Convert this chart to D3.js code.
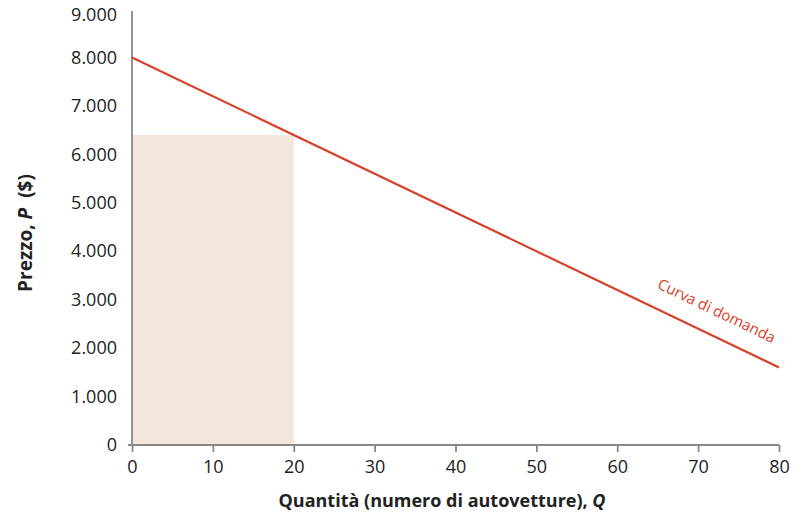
<!DOCTYPE html>
<html><head><meta charset="utf-8">
<script src="https://cdn.jsdelivr.net/npm/d3@7"></script>
<style>body{margin:0;background:#fff}svg{display:block}text{font-family:"Open Sans",sans-serif}</style>
</head><body><svg id="c" width="809" height="520"></svg>
<script>
const xTicks = [0,10,20,30,40,50,60,70,80];
const yTicks = [0,1000,2000,3000,4000,5000,6000,7000,8000,9000];
const demandQ = [0, 80];
const demandP = [8000, 1600];
const rectQ = [0, 20];
const rectP = [0, 6400];
const curveLabel = "Curva di domanda";
const labelQ = 71;
const xTitle = "Quantità (numero di autovetture), ";
const yTitle = "Prezzo, ";

const svg = d3.select("#c");
const x = d3.scaleLinear().domain([0,80]).range([132,779]);
const y = d3.scaleLinear().domain([0,9000]).range([445,9]);
const fmt = d => d===0 ? "0" : d3.format(",")(d).replace(/,/g,".");

svg.append("rect")
  .attr("x", x(rectQ[0])).attr("y", y(rectP[1]))
  .attr("width", x(rectQ[1])-x(rectQ[0])).attr("height", y(rectP[0])-y(rectP[1]))
  .attr("fill", "#f3e6dc");

// x axis
const gx = svg.append("g").attr("transform", `translate(0,${y(0)})`)
  .call(d3.axisBottom(x).tickValues(xTicks).tickSize(7).tickPadding(8).tickFormat(d3.format("d")));
gx.select(".domain").attr("d", `M128,0H${x(80)}`);
// y axis
const gy = svg.append("g").attr("transform", `translate(${x(0)},0)`)
  .call(d3.axisLeft(y).tickValues(yTicks).tickSize(0).tickPadding(15).tickFormat(fmt));
gy.select(".domain").attr("d", `M0,${y(0)}V11`);
gy.selectAll(".tick text").filter(d=>d===9000).attr("dy","0.62em");
[gx, gy].forEach(g => {
  g.selectAll(".domain, line").attr("stroke", "#888").attr("stroke-width", 1.8);
  g.selectAll("text").attr("fill", "#222").style("font-size", "18px").attr("font-family", "Open Sans");
});

// demand curve
const pts = demandQ.map((q,i)=>[q, demandP[i]]);
svg.append("path").datum(pts)
  .attr("d", d3.line().x(d=>x(d[0])).y(d=>y(d[1])))
  .attr("fill","none").attr("stroke","#d7412b").attr("stroke-width",2.2);

const slope = (demandP[1]-demandP[0])/(demandQ[1]-demandQ[0]);
const lp = demandP[0] + slope*labelQ;
const ang = Math.atan2(y(demandP[1])-y(demandP[0]), x(demandQ[1])-x(demandQ[0]))*180/Math.PI;
svg.append("text")
  .attr("transform", `translate(${x(labelQ)},${y(lp)}) rotate(${ang})`)
  .attr("y", -19).attr("text-anchor","middle")
  .attr("fill","#d7412b").style("font-size","15px").text(curveLabel);

// titles
const xt = svg.append("text").attr("x", 442).attr("y", 507).attr("text-anchor","middle")
  .attr("font-weight","bold").style("font-size","18px").attr("fill","#222");
xt.append("tspan").text(xTitle);
xt.append("tspan").attr("font-style","italic").text("Q");

const yt = svg.append("text").attr("transform","translate(32,233) rotate(-90)")
  .attr("text-anchor","middle").attr("font-weight","bold").style("font-size","19px").attr("fill","#222");
yt.append("tspan").text(yTitle);
yt.append("tspan").attr("font-style","italic").text("P");
yt.append("tspan").attr("dx", 10).text("($)");
</script></body></html>
